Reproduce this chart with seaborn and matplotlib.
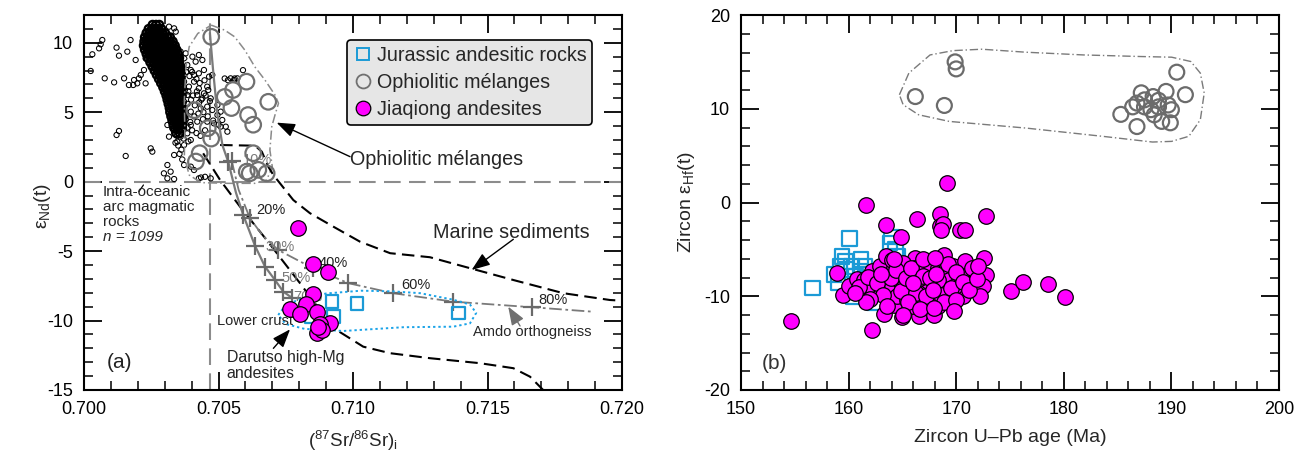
import numpy as np
import matplotlib
matplotlib.use('Agg')
import matplotlib.pyplot as plt
import seaborn as sns
from matplotlib.lines import Line2D
from matplotlib.ticker import MultipleLocator, FormatStrFormatter

# ---------------- DATA : panel (a) ----------------
# intra-oceanic arc magmatic rocks (dense core, typed row by row: y, x-values)
arc_core_rows = [
    (11.3, [0.70255, 0.70268, 0.70280]),
    (11.0, [0.70240, 0.70252, 0.70264, 0.70276, 0.70288]),
    (10.7, [0.70232, 0.70244, 0.70256, 0.70268, 0.70280, 0.70292, 0.70302]),
    (10.4, [0.70226, 0.70238, 0.70250, 0.70262, 0.70274, 0.70286, 0.70298, 0.70310, 0.70320]),
    (10.1, [0.70224, 0.70236, 0.70248, 0.70260, 0.70272, 0.70284, 0.70296, 0.70308, 0.70320, 0.70330]),
    (9.8, [0.70222, 0.70234, 0.70246, 0.70258, 0.70270, 0.70282, 0.70294, 0.70306, 0.70318, 0.70330, 0.70338]),
    (9.5, [0.70226, 0.70238, 0.70250, 0.70262, 0.70274, 0.70286, 0.70298, 0.70310, 0.70322, 0.70334, 0.70344]),
    (9.2, [0.70232, 0.70244, 0.70256, 0.70268, 0.70280, 0.70292, 0.70304, 0.70316, 0.70328, 0.70340, 0.70350]),
    (8.9, [0.70238, 0.70250, 0.70262, 0.70274, 0.70286, 0.70298, 0.70310, 0.70322, 0.70334, 0.70346, 0.70354]),
    (8.6, [0.70246, 0.70258, 0.70270, 0.70282, 0.70294, 0.70306, 0.70318, 0.70330, 0.70342, 0.70354]),
    (8.3, [0.70254, 0.70266, 0.70278, 0.70290, 0.70302, 0.70314, 0.70326, 0.70338, 0.70350, 0.70358]),
    (8.0, [0.70262, 0.70274, 0.70286, 0.70298, 0.70310, 0.70322, 0.70334, 0.70346, 0.70358]),
    (7.7, [0.70270, 0.70282, 0.70294, 0.70306, 0.70318, 0.70330, 0.70342, 0.70354, 0.70362]),
    (7.4, [0.70278, 0.70290, 0.70302, 0.70314, 0.70326, 0.70338, 0.70350, 0.70360]),
    (7.1, [0.70286, 0.70298, 0.70310, 0.70322, 0.70334, 0.70346, 0.70358]),
    (6.8, [0.70294, 0.70306, 0.70318, 0.70330, 0.70342, 0.70354, 0.70364]),
    (6.5, [0.70300, 0.70312, 0.70324, 0.70336, 0.70348, 0.70360]),
    (6.2, [0.70306, 0.70318, 0.70330, 0.70342, 0.70354, 0.70364]),
    (5.9, [0.70310, 0.70322, 0.70334, 0.70346, 0.70358]),
    (5.6, [0.70314, 0.70326, 0.70338, 0.70350, 0.70362]),
    (5.3, [0.70318, 0.70330, 0.70342, 0.70354, 0.70366]),
    (5.0, [0.70320, 0.70332, 0.70344, 0.70356, 0.70368]),
    (4.7, [0.70324, 0.70336, 0.70348, 0.70360, 0.70370]),
    (4.4, [0.70328, 0.70340, 0.70352, 0.70364]),
    (4.1, [0.70332, 0.70344, 0.70356, 0.70366]),
    (3.8, [0.70338, 0.70350, 0.70362]),
    (3.5, [0.70342, 0.70356]),
]
arc_sc_x = [0.70025, 0.70031, 0.70056, 0.70062, 0.70068, 0.70077, 0.70112, 0.70121, 0.70130, 0.70149,
            0.70161, 0.70173, 0.70167, 0.70183, 0.70192, 0.70198, 0.70204, 0.70211, 0.70186, 0.70229,
            0.70217, 0.70229, 0.70130, 0.70121, 0.70155, 0.70248, 0.70254,
            0.70372, 0.70384, 0.70397, 0.70415, 0.70440, 0.70409, 0.70427, 0.70446, 0.70465, 0.70477,
            0.70372, 0.70390, 0.70409, 0.70427, 0.70446, 0.70458, 0.70471, 0.70440, 0.70421, 0.70384,
            0.70372, 0.70359, 0.70378, 0.70397, 0.70434, 0.70458, 0.70477, 0.70496, 0.70508, 0.70496,
            0.70514, 0.70527, 0.70533, 0.70508, 0.70483, 0.70458, 0.70421, 0.70397, 0.70372, 0.70384,
            0.70359, 0.70397, 0.70372, 0.70347, 0.70335, 0.70310, 0.70322, 0.70297, 0.70310, 0.70372,
            0.70397, 0.70409, 0.70427, 0.70471, 0.70335, 0.70310, 0.70316, 0.70328, 0.70285, 0.70316,
            0.70291, 0.70316, 0.70335, 0.70341, 0.70359, 0.70378, 0.70403, 0.70427, 0.70545, 0.70558,
            0.70570, 0.70260, 0.70248, 0.70223, 0.70523, 0.70535, 0.70560, 0.70591, 0.70435, 0.70450,
            0.70380, 0.70392, 0.70402, 0.70418, 0.70430, 0.70448, 0.70462, 0.70375, 0.70388, 0.70405,
            0.70420, 0.70436, 0.70452, 0.70468, 0.70385, 0.70398, 0.70412, 0.70428, 0.70444, 0.70378,
            0.70395, 0.70410, 0.70425, 0.70442, 0.70460, 0.70480, 0.70500, 0.70385, 0.70402, 0.70418,
            0.70433, 0.70450, 0.70370, 0.70388, 0.70350, 0.70362, 0.70345, 0.70355, 0.70365, 0.70340]
arc_sc_y = [7.97, 9.17, 9.60, 9.89, 10.20, 7.44, 7.15, 9.65, 9.07, 7.44,
            9.36, 10.20, 6.96, 6.96, 8.76, 7.08, 7.44, 7.68, 7.32, 7.08,
            9.79, 8.88, 3.65, 3.36, 1.85, 2.40, 2.16,
            8.88, 8.40, 8.04, 8.64, 8.76, 7.68, 7.80, 8.04, 7.56, 7.68,
            7.20, 6.84, 7.20, 6.72, 6.36, 6.84, 6.00, 6.00, 6.24, 6.24,
            5.76, 5.28, 4.80, 5.04, 5.28, 5.40, 5.16, 5.52, 5.04, 4.80,
            4.44, 3.96, 3.60, 3.96, 4.20, 4.32, 4.32, 4.08, 3.84, 3.48,
            3.24, 3.00, 2.64, 2.88, 1.92, 1.20, 0.72, 0.60, 0.24, 1.20,
            1.08, 0.84, 0.24, 0.24, 0.19, 4.08, 3.24, 3.84, 8.04, 8.40,
            11.04, 11.16, 11.04, 10.80, 9.36, 9.24, 9.00, 9.12, 7.44, 7.32,
            7.44, 11.28, 10.80, 8.04, 7.43, 7.31, 7.43, 8.03, 0.30, 0.35,
            7.9, 7.6, 7.9, 7.4, 7.1, 7.3, 6.6, 6.6, 6.5, 6.2,
            6.5, 5.9, 6.2, 5.8, 5.6, 5.9, 5.5, 5.7, 5.0, 4.5,
            4.3, 4.7, 4.9, 4.5, 4.7, 4.4, 4.1, 3.9, 3.7, 3.5,
            3.3, 3.7, 3.1, 2.9, 2.6, 2.3, 3.3, 2.0, 1.6, 2.8]

# ophiolitic melanges
oph_a_x = [0.70473, 0.70554, 0.70604, 0.70523, 0.70548, 0.70410, 0.70685, 0.70610, 0.70629, 0.70460,
           0.70473, 0.70430, 0.70416, 0.70629, 0.70616, 0.70679, 0.70648, 0.70605]
oph_a_y = [10.43, 6.60, 7.20, 6.10, 5.30, 5.15, 5.75, 4.80, 4.10, 3.85,
           3.10, 2.05, 1.45, 2.05, 0.60, 0.60, 0.85, 0.72]
# Jurassic andesitic rocks
jur_a_x = [0.70921, 0.71014, 0.70927, 0.70846, 0.71392]
jur_a_y = [-8.64, -8.76, -9.72, -9.72, -9.47]
# Jiaqiong andesites
jia_a_x = [0.70797, 0.70852, 0.70908, 0.70852, 0.70766, 0.70824, 0.70803, 0.70865, 0.70915,
           0.70877, 0.70865, 0.70884, 0.70871]
jia_a_y = [-3.36, -5.95, -6.48, -8.08, -9.19, -8.83, -9.52, -9.36, -10.19,
           -10.24, -10.91, -10.67, -10.44]

# envelopes / curves in panel (a)
oph_env_x = [0.70473, 0.70523, 0.70560, 0.70598, 0.70635, 0.70673, 0.70710, 0.70723, 0.70710, 0.70698,
             0.70691, 0.70700, 0.70679, 0.70635, 0.70535, 0.70435, 0.70391, 0.70373, 0.70375, 0.70373,
             0.70379, 0.70391, 0.70423, 0.70473]
oph_env_y = [11.27, 10.91, 10.43, 9.47, 8.27, 7.31, 6.24, 5.64, 4.80, 3.96,
             2.28, 1.08, 0.12, -0.12, -0.12, -0.07, 0.48, 1.80, 3.48, 5.88,
             8.27, 9.71, 10.67, 11.27]
mar_up_x = [0.70506, 0.70636, 0.70661, 0.70685, 0.70704, 0.70778, 0.70840, 0.70927, 0.71026, 0.71138,
            0.71286, 0.71435, 0.71596, 0.71782, 0.71955, 0.72000]
mar_up_y = [2.64, 2.59, 2.16, 1.08, 0.48, -1.32, -2.27, -3.24, -4.32, -5.15,
            -5.44, -6.23, -7.08, -8.03, -8.52, -8.57]
mar_lo_x = [0.70443, 0.70506, 0.70580, 0.70679, 0.70803, 0.70877, 0.70939, 0.71038, 0.71138, 0.71286,
            0.71472, 0.71596, 0.71658, 0.71707]
mar_lo_y = [2.04, 0.12, -1.80, -4.20, -7.31, -9.24, -10.68, -11.88, -12.35, -12.71,
            -13.07, -13.43, -14.04, -15.00]
mix1_x = [0.70468, 0.70480, 0.70496, 0.70515, 0.70536, 0.70565, 0.70592, 0.70636, 0.70673, 0.70710,
          0.70741, 0.70772]
mix1_y = [10.7, 8.0, 4.8, 2.6, 1.44, -0.8, -2.40, -4.63, -6.12, -7.08, -7.92, -8.35]
mix1_tick_x = [0.70536, 0.70592, 0.70636, 0.70673, 0.70710, 0.70741, 0.70772]
mix1_tick_y = [1.44, -2.40, -4.63, -6.12, -7.08, -7.92, -8.35]
mix2_x = [0.70549, 0.70575, 0.70617, 0.70665, 0.70722, 0.70852, 0.70983, 0.71149, 0.71373, 0.71665, 0.71890]
mix2_y = [1.51, -0.60, -2.64, -3.90, -4.92, -6.24, -7.31, -8.03, -8.64, -9.04, -9.36]
mix2_tick_x = [0.70549, 0.70617, 0.70722, 0.70852, 0.70983, 0.71149, 0.71373, 0.71665]
mix2_tick_y = [1.51, -2.64, -4.92, -6.24, -7.31, -8.03, -8.64, -9.04]
pct_labels = ['10%', '20%', '30%', '40%', '50%', '70%', '60%', '80%']
pct_x = [0.70592, 0.70642, 0.70673, 0.70871, 0.70735, 0.70778, 0.71181, 0.71689]
pct_y = [1.56, -2.04, -4.68, -5.88, -6.96, -8.28, -7.44, -8.52]
pct_dark = [False, True, False, True, False, False, True, True]
dar_env_x = [0.70722, 0.70745, 0.70790, 0.70900, 0.71030, 0.71150, 0.71250, 0.71373, 0.71435, 0.71458,
             0.71435, 0.71373, 0.71187, 0.70964, 0.70820, 0.70750, 0.70722]
dar_env_y = [-9.6, -9.0, -8.55, -8.05, -7.85, -7.9, -8.03, -8.5, -8.85, -9.45,
             -10.2, -10.44, -10.48, -10.75, -10.6, -10.25, -9.6]
sr_ref = 0.7047

# ---------------- DATA : panel (b) ----------------
oph_b_age = [166.2, 168.9, 169.9, 170.0, 185.3, 186.4, 186.8, 187.2, 186.8, 187.5, 188.1, 188.3, 188.4,
             188.8, 189.1, 189.5, 189.7, 189.9, 190.0, 190.5, 191.3, 187.5, 188.8]
oph_b_hf = [11.3, 10.35, 15.0, 14.25, 9.4, 10.2, 8.1, 11.7, 10.6, 10.95, 9.9, 11.3, 9.35,
            10.9, 8.65, 11.85, 10.4, 8.5, 9.9, 13.9, 11.5, 10.2, 10.2]
oph_b_env_age = [164.72, 165.6, 167.57, 169.7, 172.38, 176.48, 181.82, 187.17, 190.02, 191.8, 192.69,
                 193.05, 192.69, 191.62, 190.02, 188.24, 183.6, 176.48, 169.35, 166.5, 165.07, 164.72]
oph_b_env_hf = [11.49, 13.8, 15.74, 16.2, 16.35, 16.03, 15.74, 15.57, 15.5, 15.04, 13.8,
                11.67, 8.83, 7.06, 6.52, 6.45, 7.06, 7.94, 8.65, 9.36, 10.43, 11.49]
jur_b_age = [156.63, 160.09, 159.19, 158.66, 159.02, 159.73, 160.26, 161.15, 160.62, 160.44, 162.4,
             164.0, 163.83, 164.36, 164.54, 159.73, 161.51, 161.87, 161.15, 159.37]
jur_b_hf = [-9.11, -3.87, -6.81, -7.70, -8.58, -7.16, -6.81, -6.10, -7.87, -10.0, -10.71,
            -3.69, -4.33, -5.04, -5.74, -6.28, -6.81, -7.70, -7.34, -5.74]
jia_b_age = [154.67, 161.58, 162.22, 169.14, 163.47, 164.83, 166.39, 168.46, 168.46, 168.75, 168.57,
             170.31, 170.78, 172.81, 172.56, 172.74, 172.45, 172.2, 175.12, 176.23, 178.51, 180.15,
             158.91, 159.44, 160.01, 163.29, 165.0, 166.57, 167.93, 168.35, 167.28, 164.18, 165.97,
             160.8, 161.44, 161.69, 162.22, 162.94, 163.47, 163.11, 163.65, 164.18, 162.94, 164.0,
             164.54, 164.72, 165.43, 166.14, 166.14, 165.9, 166.14, 166.68, 166.86, 167.21, 167.39,
             167.67, 168.0, 168.28, 168.89, 169.0, 168.82, 169.35, 169.71, 170.24, 170.6, 170.85,
             171.06, 169.89, 165.08, 162.22, 161.33, 162.4, 165.43, 167.03, 167.57, 164.54, 165.61,
             168.28, 166.68, 165.07, 170.42, 164.0, 161.87,
             161.0, 161.8, 162.6, 163.2, 163.9, 164.4, 164.9, 165.3, 165.8, 166.3, 166.9, 167.2,
             167.6, 168.1, 168.6, 169.2, 169.5, 170.0, 170.6, 171.2, 171.5, 162.0, 163.6, 165.5,
             166.6, 168.9, 170.0, 164.2, 166.9, 168.0, 163.0, 161.6, 167.9, 165.1, 169.8, 171.9,
             160.6, 172.0, 166.0, 167.8]
jia_b_hf = [-12.66, -0.25, -13.65, 2.13, -2.38, -3.69, -1.77, -1.21, -2.48, -2.27, -2.91,
            -2.98, -2.98, -1.42, -5.92, -7.70, -8.87, -9.93, -9.40, -8.51, -8.65, -10.07,
            -7.52, -9.82, -8.87, -11.88, -12.23, -12.13, -11.95, -11.06, -10.78, -10.96, -11.06,
            -8.16, -8.23, -9.65, -7.34, -6.81, -5.74, -8.58, -7.87, -6.99, -9.65, -8.94,
            -9.99, -8.23, -7.52, -5.92, -6.99, -9.82, -8.58, -7.16, -9.29, -6.99, -8.40,
            -6.63, -9.29, -6.99, -5.57, -7.34, -9.47, -8.23, -6.81, -9.47, -10.0, -6.28,
            -7.70, -8.94, -9.11, -9.11, -9.47, -8.23, -10.35, -10.35, -10.71, -7.52, -8.40,
            -8.23, -8.05, -6.45, -7.87, -6.10, -8.76,
            -9.0, -7.9, -8.6, -9.9, -8.0, -7.2, -9.4, -8.1, -7.0, -9.6, -7.8, -10.0,
            -8.0, -7.6, -9.9, -6.6, -9.1, -7.4, -8.5, -9.3, -7.0, -10.3, -11.0, -10.6,
            -11.4, -10.6, -10.4, -6.0, -6.0, -5.9, -7.6, -10.6, -11.3, -12.0, -11.6, -8.2,
            -9.6, -6.8, -8.6, -9.3]

# ---------------- STYLE ----------------
sns.set_theme(style='white')
plt.rcParams['font.family'] = ['Liberation Sans', 'DejaVu Sans']
plt.rcParams['mathtext.fontset'] = 'custom'
plt.rcParams['mathtext.rm'] = 'Liberation Sans'
plt.rcParams['mathtext.it'] = 'Liberation Sans:italic'
plt.rcParams['axes.unicode_minus'] = False

BLUE = '#1b9ad6'
MAG = '#ff00ff'

fig = plt.figure(figsize=(13.03, 4.59), dpi=100)
axa = fig.add_axes([84 / 1303, 1 - 390 / 459, 538 / 1303, 375 / 459])
axb = fig.add_axes([741 / 1303, 1 - 390 / 459, 538 / 1303, 375 / 459])


def style(ax):
    for s in ax.spines.values():
        s.set_visible(True)
        s.set_linewidth(1.5)
        s.set_color('black')
    ax.tick_params(which='both', direction='in', top=True, right=True, bottom=True, left=True,
                   colors='black', labelsize=13, pad=8)
    ax.tick_params(which='major', length=13, width=1.3)
    ax.tick_params(which='minor', length=6.5, width=1.1)


def scatter(ax, x, y, marker, s, fc, ec, lw, z):
    sns.scatterplot(x=x, y=y, ax=ax, marker=marker, s=s, legend=False, zorder=z)
    coll = ax.collections[-1]
    coll.set_facecolor(fc)
    coll.set_edgecolor(ec)
    coll.set_linewidth(lw)
    coll.set_zorder(z)


# ---------------- PANEL (a) ----------------
ax = axa
ax.axhline(0, color='#8c8c8c', lw=1.5, ls=(0, (8, 4)), zorder=1)
ax.axvline(sr_ref, color='#8c8c8c', lw=1.5, ls=(0, (8, 4)), zorder=1)

core_x = [xv for yv, xs in arc_core_rows for xv in xs]
core_y = [yv for yv, xs in arc_core_rows for xv in xs]
scatter(ax, core_x, core_y, 'o', 30, 'none', 'black', 1.7, 2)
scatter(ax, arc_sc_x, arc_sc_y, 'o', 14, 'none', 'black', 0.75, 2)

ax.plot(oph_env_x, oph_env_y, color='#8a8a8a', lw=1.1, ls=(0, (6, 2, 1, 2)), zorder=3)
ax.plot(mar_up_x, mar_up_y, color='black', lw=1.5, ls=(0, (6, 3)), zorder=3)
ax.plot(mar_lo_x, mar_lo_y, color='black', lw=1.5, ls=(0, (6, 3)), zorder=3)
ax.plot(mix1_x, mix1_y, color='#7a7a7a', lw=1.6, zorder=3)
ax.plot(mix2_x, mix2_y, color='#7a7a7a', lw=1.3, ls=(0, (7, 2, 1.5, 2)), zorder=3)
sns.scatterplot(x=mix1_tick_x + mix2_tick_x, y=mix1_tick_y + mix2_tick_y, ax=ax, marker='+',
                s=160, color='#6a6a6a', linewidth=1.6, legend=False, zorder=4)
ax.plot(dar_env_x, dar_env_y, color='#1aa3e8', lw=1.4, ls=(0, (1.2, 1.5)), zorder=4)

for lab, xv, yv, dk in zip(pct_labels, pct_x, pct_y, pct_dark):
    ax.text(xv, yv, lab, fontsize=10.5, color='#222222' if dk else '#7a7a7a',
            ha='left', va='center', zorder=4)

scatter(ax, oph_a_x, oph_a_y, 'o', 125, 'none', '#707070', 1.6, 5)
scatter(ax, jur_a_x, jur_a_y, 's', 80, 'none', BLUE, 1.6, 6)
scatter(ax, jia_a_x, jia_a_y, 'o', 125, MAG, 'black', 0.9, 7)

# annotations
ax.plot([0.70204, 0.70221], [-0.72, -0.24], color='black', lw=0.9, zorder=3)
ax.text(0.70071, -0.72, 'Intra-oceanic', fontsize=11, va='center', ha='left')
ax.text(0.70071, -1.84, 'arc magmatic', fontsize=11, va='center', ha='left')
ax.text(0.70071, -2.92, 'rocks', fontsize=11, va='center', ha='left')
ax.text(0.70071, -3.96, 'n = 1099', fontsize=11, va='center', ha='left', style='italic')

arrow_k = dict(arrowstyle='-|>,head_length=0.8,head_width=0.3', lw=1.0, shrinkA=0, shrinkB=0,
               mutation_scale=14)
ax.text(0.70989, 1.56, 'Ophiolitic mélanges', fontsize=14.2, va='center', ha='left')
ax.annotate('', xy=(0.70716, 4.25), xytext=(0.70989, 1.8),
            arrowprops=dict(color='black', **arrow_k), zorder=8)
ax.text(0.71296, -3.64, 'Marine sediments', fontsize=14.2, va='center', ha='left')
ax.annotate('', xy=(0.71441, -6.36), xytext=(0.71596, -4.15),
            arrowprops=dict(color='black', **arrow_k), zorder=8)
ax.text(0.71447, -10.84, 'Amdo orthogneiss', fontsize=10.5, va='center', ha='left')
ax.annotate('', xy=(0.71577, -9.0), xytext=(0.71621, -10.39),
            arrowprops=dict(color='#707070', **arrow_k), zorder=8)
ax.text(0.70493, -10.0, 'Lower crust', fontsize=10.5, va='center', ha='left', zorder=5)
ax.text(0.7053, -12.67, 'Darutso high-Mg', fontsize=11.4, va='center', ha='left')
ax.text(0.7053, -13.84, 'andesites', fontsize=11.4, va='center', ha='left')
ax.annotate('', xy=(0.70766, -10.63), xytext=(0.70704, -12.0),
            arrowprops=dict(color='black', **arrow_k), zorder=8)
ax.text(0.70084, -13.03, '(a)', fontsize=15, va='center', ha='left', color='#222222')

ax.set_xlim(0.700, 0.720)
ax.set_ylim(-15, 12)
ax.xaxis.set_major_locator(MultipleLocator(0.005))
ax.xaxis.set_minor_locator(MultipleLocator(0.001))
ax.xaxis.set_major_formatter(FormatStrFormatter('%.3f'))
ax.yaxis.set_major_locator(MultipleLocator(5))
ax.yaxis.set_minor_locator(MultipleLocator(1))
style(ax)
ax.set_xlabel('($^{87}$Sr/$^{86}$Sr)$_{\\mathrm{i}}$', fontsize=13.5)
ax.set_ylabel('ε$_{\\mathrm{Nd}}$(t)', fontsize=14)
ax.xaxis.set_label_coords(0.5, -0.105)
ax.yaxis.set_label_coords(-0.058, 0.49)

handles = [
    Line2D([], [], marker='s', ls='none', mfc='none', mec=BLUE, mew=1.4, ms=8),
    Line2D([], [], marker='o', ls='none', mfc='none', mec='#707070', mew=1.3, ms=10),
    Line2D([], [], marker='o', ls='none', mfc=MAG, mec='black', mew=0.9, ms=10.5),
]
leg = ax.legend(handles, ['Jurassic andesitic rocks', 'Ophiolitic mélanges', 'Jiaqiong andesites'],
                loc='upper left', bbox_to_anchor=(0.489, 0.933), fontsize=14.2, frameon=True,
                fancybox=True, facecolor='#e6e6e6', edgecolor='black', framealpha=1,
                handletextpad=0.2, handlelength=1.0, borderpad=0.3, labelspacing=0.4,
                borderaxespad=0)
leg.get_frame().set_linewidth(1.2)
leg.set_zorder(10)

# ---------------- PANEL (b) ----------------
ax = axb
ax.plot(oph_b_env_age, oph_b_env_hf, color='#7a7a7a', lw=1.0, ls=(0, (6, 2, 1, 2)), zorder=2)
scatter(ax, oph_b_age, oph_b_hf, 'o', 115, 'none', '#6b6b6b', 1.6, 3)
scatter(ax, jur_b_age, jur_b_hf, 's', 110, 'none', BLUE, 1.6, 4)
scatter(ax, jia_b_age, jia_b_hf, 'o', 125, MAG, 'black', 0.9, 5)
ax.text(151.9, -17.2, '(b)', fontsize=15, va='center', ha='left', color='#333333')

ax.set_xlim(150, 200)
ax.set_ylim(-20, 20)
ax.xaxis.set_major_locator(MultipleLocator(10))
ax.xaxis.set_minor_locator(MultipleLocator(2))
ax.yaxis.set_major_locator(MultipleLocator(10))
ax.yaxis.set_minor_locator(MultipleLocator(2))
style(ax)
ax.set_xlabel('Zircon U–Pb age (Ma)', fontsize=14)
ax.set_ylabel('Zircon ε$_{\\mathrm{Hf}}$(t)', fontsize=14)
ax.xaxis.set_label_coords(0.5, -0.105)
ax.yaxis.set_label_coords(-0.082, 0.5)

fig.savefig('out.png', dpi=100)
